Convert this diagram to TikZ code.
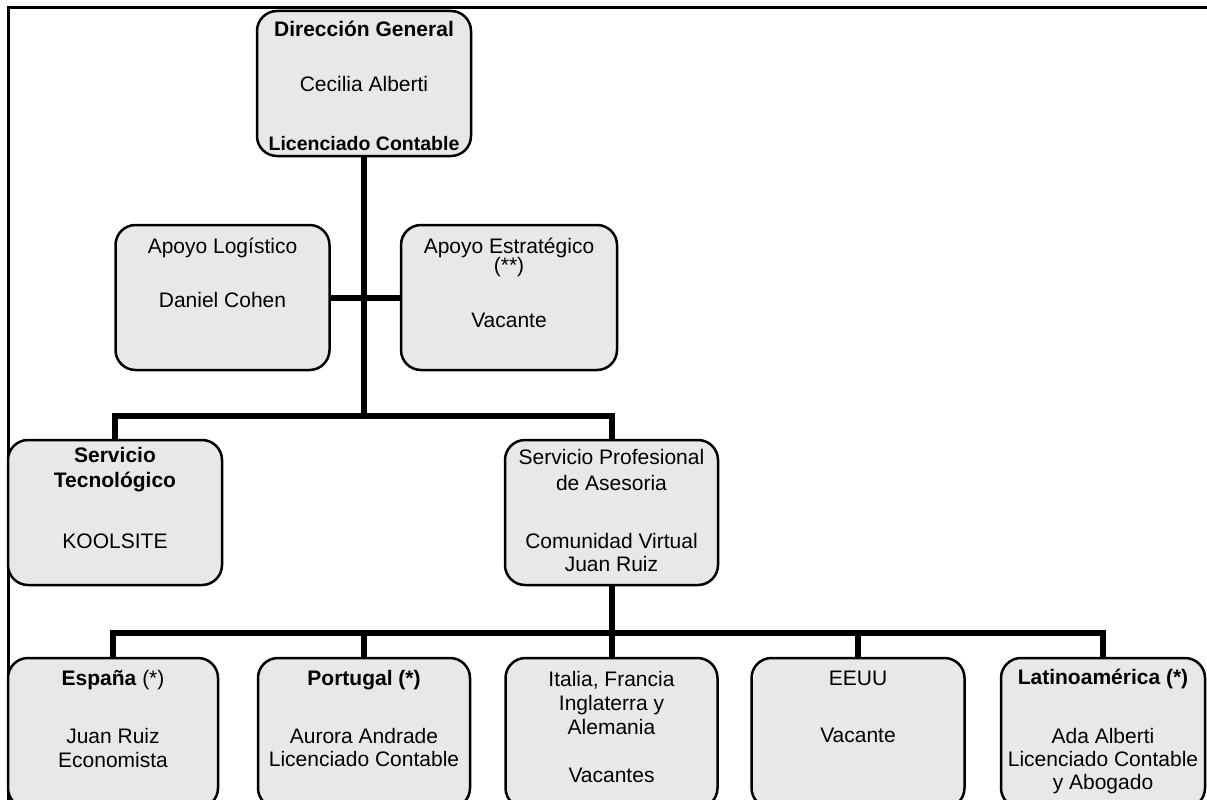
\documentclass[tikz,border=0pt]{standalone}
\usepackage{fontspec}
\setmainfont{Liberation Sans}
\begin{document}
\begin{tikzpicture}[x=1pt,y=-1pt,
  box/.style={draw=black, line width=2.5pt, rounded corners=20pt, fill=black!9, inner sep=0pt},
  conn/.style={line width=6pt, line join=miter},
  frame/.style={line width=3pt},
  lbl/.style={anchor=base, inner sep=0pt, font=\fontsize{21}{24}\selectfont},
  blbl/.style={lbl, font=\fontsize{21}{24}\selectfont\bfseries}]
\useasboundingbox (0,0) rectangle (1207,800);
\clip (0,0) rectangle (1207,800);
% frame
\coordinate (fl) at (8,820);
\coordinate (fc) at (8,8);
\coordinate (fr) at (1210,8);
\draw[frame] (fl) -- (fc) -- (fr);
% boxes
\node[box, minimum width=214pt, minimum height=145pt] (dg) at (364,83.5) {};
\node[box, minimum width=214pt, minimum height=145pt] (al) at (222.5,297.5) {};
\node[box, minimum width=216pt, minimum height=145pt] (ae) at (509,297.5) {};
\node[box, minimum width=214pt, minimum height=145pt] (st) at (115,512.5) {};
\node[box, minimum width=213pt, minimum height=145pt] (sp) at (611.5,512.5) {};
\node[box, minimum width=210pt, minimum height=150pt] (es) at (113,733) {};
\node[box, minimum width=212pt, minimum height=150pt] (pt) at (364,733) {};
\node[box, minimum width=212pt, minimum height=150pt] (it) at (611.5,733) {};
\node[box, minimum width=213pt, minimum height=150pt] (us) at (858,733) {};
\node[box, minimum width=204pt, minimum height=150pt] (la) at (1103,733) {};
% connectors
\coordinate (b1) at (364,416);
\coordinate (b2) at (611.5,633);
\draw[conn] (dg.south) -- (b1);
\draw[conn] (al.east) -- (ae.west);
\draw[conn] (st.north) |- (b1);
\draw[conn] (sp.north) |- (b1);
\draw[conn] (sp.south) -- (b2);
\draw[conn] (es.north) |- (b2);
\draw[conn] (pt.north) |- (b2);
\draw[conn] (it.north) -- (b2);
\draw[conn] (us.north) |- (b2);
\draw[conn] (la.north) |- (b2);
% texts
\node[blbl] (dg1) at (364,37) {Dirección General};
\node[lbl] (dg2) at (364,91) {Cecilia Alberti};
\node[blbl, font=\fontsize{19.5}{24}\selectfont\bfseries] (dg3) at (364,150) {Licenciado Contable};
\node[lbl] (al1) at (222.5,253) {Apoyo Logístico};
\node[lbl] (al2) at (222.5,307) {Daniel Cohen};
\node[lbl] (ae1) at (509,253) {Apoyo Estratégico};
\node[lbl] (ae2) at (509,272) {(**)};
\node[lbl] (ae3) at (509,327) {Vacante};
\node[blbl] (st1) at (115,462) {Servicio};
\node[blbl] (st2) at (115,487) {Tecnológico};
\node[lbl] (st3) at (115,548) {KOOLSITE};
\node[lbl] (sp1) at (611.5,464) {Servicio Profesional};
\node[lbl] (sp2) at (611.5,490) {de Asesoria};
\node[lbl] (sp3) at (611.5,548) {Comunidad Virtual};
\node[lbl] (sp4) at (611.5,571) {Juan Ruiz};
\node[lbl] (es1) at (113,685) {\textbf{España} (*)};
\node[lbl] (es2) at (113,743) {Juan Ruiz};
\node[lbl] (es3) at (113,767) {Economista};
\node[blbl] (pt1) at (364,685) {Portugal (*)};
\node[lbl] (pt2) at (364,743) {Aurora Andrade};
\node[lbl] (pt3) at (364,766) {Licenciado Contable};
\node[lbl] (it1) at (611.5,686) {Italia, Francia};
\node[lbl] (it2) at (611.5,710) {Inglaterra y};
\node[lbl] (it3) at (611.5,734) {Alemania};
\node[lbl] (it4) at (611.5,782) {Vacantes};
\node[lbl] (us1) at (858,685) {EEUU};
\node[lbl] (us2) at (858,742) {Vacante};
\node[blbl] (la1) at (1103,684) {Latinoamérica (*)};
\node[lbl] (la2) at (1103,743) {Ada Alberti};
\node[lbl] (la3) at (1103,766) {Licenciado Contable};
\node[lbl] (la4) at (1103,789) {y Abogado};
\end{tikzpicture}
\end{document}
